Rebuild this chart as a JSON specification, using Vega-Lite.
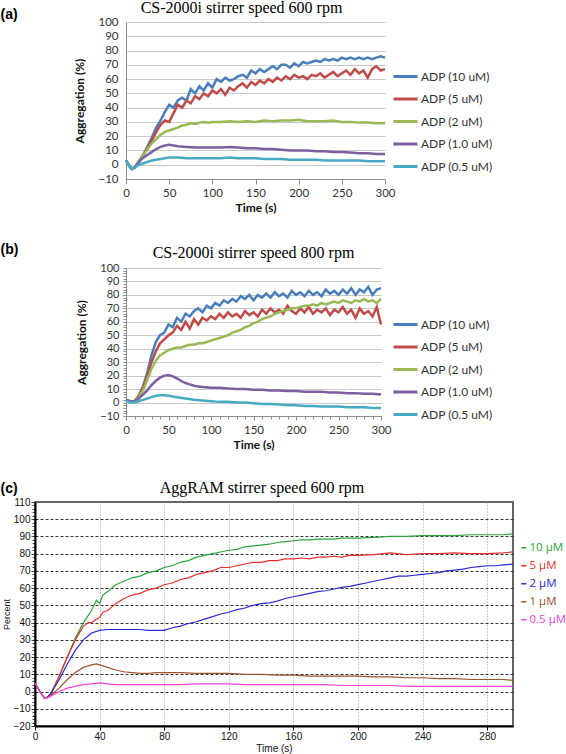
{
"$schema": "https://vega.github.io/schema/vega-lite/v6.json",
"background": "white",
"padding": {"left": 0, "top": 0, "right": 0, "bottom": 0},
"spacing": 28,
"resolve": {"scale": {"color": "independent"}, "legend": {"color": "independent"}},
"config": {"view": {"stroke": null}},
"datasets": {
"a": [
{"s":"ADP (10 uM)","t":0,"v":3},{"s":"ADP (10 uM)","t":4,"v":-1},{"s":"ADP (10 uM)","t":7,"v":-3},{"s":"ADP (10 uM)","t":10,"v":-2},{"s":"ADP (10 uM)","t":15,"v":2},{"s":"ADP (10 uM)","t":20,"v":7},{"s":"ADP (10 uM)","t":25,"v":13},{"s":"ADP (10 uM)","t":30,"v":19},{"s":"ADP (10 uM)","t":35,"v":26},{"s":"ADP (10 uM)","t":40,"v":31},{"s":"ADP (10 uM)","t":45,"v":37},{"s":"ADP (10 uM)","t":50,"v":42},{"s":"ADP (10 uM)","t":55,"v":40},{"s":"ADP (10 uM)","t":60,"v":45},{"s":"ADP (10 uM)","t":65,"v":47},{"s":"ADP (10 uM)","t":70,"v":45},{"s":"ADP (10 uM)","t":75,"v":53},{"s":"ADP (10 uM)","t":80,"v":50},{"s":"ADP (10 uM)","t":85,"v":55},{"s":"ADP (10 uM)","t":90,"v":52},{"s":"ADP (10 uM)","t":95,"v":57},{"s":"ADP (10 uM)","t":100,"v":54},{"s":"ADP (10 uM)","t":105,"v":60},{"s":"ADP (10 uM)","t":110,"v":58},{"s":"ADP (10 uM)","t":115,"v":61},{"s":"ADP (10 uM)","t":120,"v":59},{"s":"ADP (10 uM)","t":125,"v":60},{"s":"ADP (10 uM)","t":130,"v":62},{"s":"ADP (10 uM)","t":135,"v":63},{"s":"ADP (10 uM)","t":140,"v":61},{"s":"ADP (10 uM)","t":145,"v":66},{"s":"ADP (10 uM)","t":150,"v":64},{"s":"ADP (10 uM)","t":155,"v":67},{"s":"ADP (10 uM)","t":160,"v":65},{"s":"ADP (10 uM)","t":165,"v":67},{"s":"ADP (10 uM)","t":170,"v":69},{"s":"ADP (10 uM)","t":175,"v":67},{"s":"ADP (10 uM)","t":180,"v":70},{"s":"ADP (10 uM)","t":185,"v":70},{"s":"ADP (10 uM)","t":190,"v":68},{"s":"ADP (10 uM)","t":195,"v":71},{"s":"ADP (10 uM)","t":200,"v":69},{"s":"ADP (10 uM)","t":205,"v":72},{"s":"ADP (10 uM)","t":210,"v":71},{"s":"ADP (10 uM)","t":215,"v":72},{"s":"ADP (10 uM)","t":220,"v":73},{"s":"ADP (10 uM)","t":225,"v":72},{"s":"ADP (10 uM)","t":230,"v":74},{"s":"ADP (10 uM)","t":235,"v":73},{"s":"ADP (10 uM)","t":240,"v":74},{"s":"ADP (10 uM)","t":245,"v":73},{"s":"ADP (10 uM)","t":250,"v":75},{"s":"ADP (10 uM)","t":255,"v":74},{"s":"ADP (10 uM)","t":260,"v":75},{"s":"ADP (10 uM)","t":265,"v":74},{"s":"ADP (10 uM)","t":270,"v":75},{"s":"ADP (10 uM)","t":275,"v":74},{"s":"ADP (10 uM)","t":280,"v":75},{"s":"ADP (10 uM)","t":285,"v":74},{"s":"ADP (10 uM)","t":290,"v":75},{"s":"ADP (10 uM)","t":295,"v":76},{"s":"ADP (10 uM)","t":300,"v":75},
{"s":"ADP (5 uM)","t":0,"v":3},{"s":"ADP (5 uM)","t":4,"v":-1},{"s":"ADP (5 uM)","t":7,"v":-3},{"s":"ADP (5 uM)","t":10,"v":-2},{"s":"ADP (5 uM)","t":15,"v":2},{"s":"ADP (5 uM)","t":20,"v":7},{"s":"ADP (5 uM)","t":25,"v":12},{"s":"ADP (5 uM)","t":30,"v":17},{"s":"ADP (5 uM)","t":35,"v":23},{"s":"ADP (5 uM)","t":40,"v":28},{"s":"ADP (5 uM)","t":45,"v":31},{"s":"ADP (5 uM)","t":50,"v":30},{"s":"ADP (5 uM)","t":55,"v":36},{"s":"ADP (5 uM)","t":60,"v":42},{"s":"ADP (5 uM)","t":65,"v":40},{"s":"ADP (5 uM)","t":70,"v":45},{"s":"ADP (5 uM)","t":75,"v":43},{"s":"ADP (5 uM)","t":80,"v":48},{"s":"ADP (5 uM)","t":85,"v":46},{"s":"ADP (5 uM)","t":90,"v":50},{"s":"ADP (5 uM)","t":95,"v":48},{"s":"ADP (5 uM)","t":100,"v":52},{"s":"ADP (5 uM)","t":105,"v":50},{"s":"ADP (5 uM)","t":110,"v":53},{"s":"ADP (5 uM)","t":115,"v":49},{"s":"ADP (5 uM)","t":120,"v":54},{"s":"ADP (5 uM)","t":125,"v":52},{"s":"ADP (5 uM)","t":130,"v":55},{"s":"ADP (5 uM)","t":135,"v":57},{"s":"ADP (5 uM)","t":140,"v":54},{"s":"ADP (5 uM)","t":145,"v":58},{"s":"ADP (5 uM)","t":150,"v":56},{"s":"ADP (5 uM)","t":155,"v":59},{"s":"ADP (5 uM)","t":160,"v":57},{"s":"ADP (5 uM)","t":165,"v":60},{"s":"ADP (5 uM)","t":170,"v":58},{"s":"ADP (5 uM)","t":175,"v":61},{"s":"ADP (5 uM)","t":180,"v":59},{"s":"ADP (5 uM)","t":185,"v":62},{"s":"ADP (5 uM)","t":190,"v":60},{"s":"ADP (5 uM)","t":195,"v":63},{"s":"ADP (5 uM)","t":200,"v":61},{"s":"ADP (5 uM)","t":205,"v":62},{"s":"ADP (5 uM)","t":210,"v":60},{"s":"ADP (5 uM)","t":215,"v":63},{"s":"ADP (5 uM)","t":220,"v":62},{"s":"ADP (5 uM)","t":225,"v":64},{"s":"ADP (5 uM)","t":230,"v":61},{"s":"ADP (5 uM)","t":235,"v":63},{"s":"ADP (5 uM)","t":240,"v":65},{"s":"ADP (5 uM)","t":245,"v":62},{"s":"ADP (5 uM)","t":250,"v":64},{"s":"ADP (5 uM)","t":255,"v":66},{"s":"ADP (5 uM)","t":260,"v":63},{"s":"ADP (5 uM)","t":265,"v":67},{"s":"ADP (5 uM)","t":270,"v":64},{"s":"ADP (5 uM)","t":275,"v":66},{"s":"ADP (5 uM)","t":280,"v":61},{"s":"ADP (5 uM)","t":285,"v":67},{"s":"ADP (5 uM)","t":290,"v":69},{"s":"ADP (5 uM)","t":295,"v":66},{"s":"ADP (5 uM)","t":300,"v":67},
{"s":"ADP (2 uM)","t":0,"v":3},{"s":"ADP (2 uM)","t":4,"v":-1},{"s":"ADP (2 uM)","t":7,"v":-3},{"s":"ADP (2 uM)","t":10,"v":-2},{"s":"ADP (2 uM)","t":15,"v":3},{"s":"ADP (2 uM)","t":20,"v":7},{"s":"ADP (2 uM)","t":25,"v":11},{"s":"ADP (2 uM)","t":30,"v":15},{"s":"ADP (2 uM)","t":35,"v":18},{"s":"ADP (2 uM)","t":40,"v":21},{"s":"ADP (2 uM)","t":45,"v":23},{"s":"ADP (2 uM)","t":50,"v":24},{"s":"ADP (2 uM)","t":55,"v":25},{"s":"ADP (2 uM)","t":60,"v":26},{"s":"ADP (2 uM)","t":65,"v":27.5},{"s":"ADP (2 uM)","t":70,"v":28},{"s":"ADP (2 uM)","t":75,"v":29},{"s":"ADP (2 uM)","t":80,"v":28.5},{"s":"ADP (2 uM)","t":85,"v":29.5},{"s":"ADP (2 uM)","t":90,"v":30},{"s":"ADP (2 uM)","t":95,"v":29.5},{"s":"ADP (2 uM)","t":100,"v":30},{"s":"ADP (2 uM)","t":110,"v":30},{"s":"ADP (2 uM)","t":120,"v":30.5},{"s":"ADP (2 uM)","t":130,"v":30},{"s":"ADP (2 uM)","t":140,"v":30.5},{"s":"ADP (2 uM)","t":150,"v":30},{"s":"ADP (2 uM)","t":160,"v":31},{"s":"ADP (2 uM)","t":170,"v":30.5},{"s":"ADP (2 uM)","t":180,"v":31},{"s":"ADP (2 uM)","t":190,"v":31},{"s":"ADP (2 uM)","t":200,"v":31.5},{"s":"ADP (2 uM)","t":210,"v":30.5},{"s":"ADP (2 uM)","t":220,"v":30.5},{"s":"ADP (2 uM)","t":230,"v":30.5},{"s":"ADP (2 uM)","t":240,"v":31},{"s":"ADP (2 uM)","t":250,"v":30},{"s":"ADP (2 uM)","t":260,"v":30},{"s":"ADP (2 uM)","t":270,"v":29.5},{"s":"ADP (2 uM)","t":280,"v":29.5},{"s":"ADP (2 uM)","t":290,"v":29},{"s":"ADP (2 uM)","t":300,"v":29},
{"s":"ADP (1.0 uM)","t":0,"v":3},{"s":"ADP (1.0 uM)","t":4,"v":-1},{"s":"ADP (1.0 uM)","t":7,"v":-3},{"s":"ADP (1.0 uM)","t":10,"v":-2},{"s":"ADP (1.0 uM)","t":15,"v":2},{"s":"ADP (1.0 uM)","t":20,"v":5},{"s":"ADP (1.0 uM)","t":25,"v":7},{"s":"ADP (1.0 uM)","t":30,"v":9},{"s":"ADP (1.0 uM)","t":35,"v":11},{"s":"ADP (1.0 uM)","t":40,"v":12.5},{"s":"ADP (1.0 uM)","t":45,"v":13.5},{"s":"ADP (1.0 uM)","t":50,"v":14},{"s":"ADP (1.0 uM)","t":55,"v":13.5},{"s":"ADP (1.0 uM)","t":60,"v":13},{"s":"ADP (1.0 uM)","t":70,"v":12.5},{"s":"ADP (1.0 uM)","t":80,"v":12},{"s":"ADP (1.0 uM)","t":90,"v":12},{"s":"ADP (1.0 uM)","t":100,"v":12},{"s":"ADP (1.0 uM)","t":110,"v":12},{"s":"ADP (1.0 uM)","t":120,"v":12.5},{"s":"ADP (1.0 uM)","t":130,"v":12},{"s":"ADP (1.0 uM)","t":140,"v":11.5},{"s":"ADP (1.0 uM)","t":150,"v":11.5},{"s":"ADP (1.0 uM)","t":160,"v":11},{"s":"ADP (1.0 uM)","t":170,"v":11},{"s":"ADP (1.0 uM)","t":180,"v":10.5},{"s":"ADP (1.0 uM)","t":190,"v":10},{"s":"ADP (1.0 uM)","t":200,"v":10},{"s":"ADP (1.0 uM)","t":210,"v":10},{"s":"ADP (1.0 uM)","t":220,"v":9.5},{"s":"ADP (1.0 uM)","t":230,"v":9.5},{"s":"ADP (1.0 uM)","t":240,"v":9},{"s":"ADP (1.0 uM)","t":250,"v":9},{"s":"ADP (1.0 uM)","t":260,"v":8.5},{"s":"ADP (1.0 uM)","t":270,"v":8},{"s":"ADP (1.0 uM)","t":280,"v":8},{"s":"ADP (1.0 uM)","t":290,"v":7.5},{"s":"ADP (1.0 uM)","t":300,"v":7.5},
{"s":"ADP (0.5 uM)","t":0,"v":3},{"s":"ADP (0.5 uM)","t":4,"v":-1},{"s":"ADP (0.5 uM)","t":7,"v":-3},{"s":"ADP (0.5 uM)","t":10,"v":-2},{"s":"ADP (0.5 uM)","t":15,"v":0},{"s":"ADP (0.5 uM)","t":20,"v":1},{"s":"ADP (0.5 uM)","t":25,"v":2},{"s":"ADP (0.5 uM)","t":30,"v":3},{"s":"ADP (0.5 uM)","t":35,"v":3.5},{"s":"ADP (0.5 uM)","t":40,"v":4},{"s":"ADP (0.5 uM)","t":45,"v":4.5},{"s":"ADP (0.5 uM)","t":50,"v":5},{"s":"ADP (0.5 uM)","t":60,"v":5},{"s":"ADP (0.5 uM)","t":70,"v":4.5},{"s":"ADP (0.5 uM)","t":80,"v":4.5},{"s":"ADP (0.5 uM)","t":90,"v":4.5},{"s":"ADP (0.5 uM)","t":100,"v":4.5},{"s":"ADP (0.5 uM)","t":110,"v":4.5},{"s":"ADP (0.5 uM)","t":120,"v":5},{"s":"ADP (0.5 uM)","t":130,"v":4.5},{"s":"ADP (0.5 uM)","t":140,"v":4.5},{"s":"ADP (0.5 uM)","t":150,"v":4.5},{"s":"ADP (0.5 uM)","t":160,"v":4},{"s":"ADP (0.5 uM)","t":170,"v":4},{"s":"ADP (0.5 uM)","t":180,"v":4},{"s":"ADP (0.5 uM)","t":190,"v":3.5},{"s":"ADP (0.5 uM)","t":200,"v":3.5},{"s":"ADP (0.5 uM)","t":210,"v":3.5},{"s":"ADP (0.5 uM)","t":220,"v":3.5},{"s":"ADP (0.5 uM)","t":230,"v":3},{"s":"ADP (0.5 uM)","t":240,"v":3},{"s":"ADP (0.5 uM)","t":250,"v":3},{"s":"ADP (0.5 uM)","t":260,"v":3},{"s":"ADP (0.5 uM)","t":270,"v":3},{"s":"ADP (0.5 uM)","t":280,"v":2.5},{"s":"ADP (0.5 uM)","t":290,"v":2.5},{"s":"ADP (0.5 uM)","t":300,"v":2.5}
],
"b": [
{"s":"ADP (10 uM)","t":0,"v":2},{"s":"ADP (10 uM)","t":5,"v":1},{"s":"ADP (10 uM)","t":10,"v":1},{"s":"ADP (10 uM)","t":15,"v":5},{"s":"ADP (10 uM)","t":20,"v":12},{"s":"ADP (10 uM)","t":25,"v":22},{"s":"ADP (10 uM)","t":30,"v":35},{"s":"ADP (10 uM)","t":35,"v":45},{"s":"ADP (10 uM)","t":40,"v":50},{"s":"ADP (10 uM)","t":45,"v":52},{"s":"ADP (10 uM)","t":50,"v":58},{"s":"ADP (10 uM)","t":55,"v":56},{"s":"ADP (10 uM)","t":60,"v":63},{"s":"ADP (10 uM)","t":65,"v":60},{"s":"ADP (10 uM)","t":70,"v":66},{"s":"ADP (10 uM)","t":75,"v":64},{"s":"ADP (10 uM)","t":80,"v":68},{"s":"ADP (10 uM)","t":85,"v":70},{"s":"ADP (10 uM)","t":90,"v":67},{"s":"ADP (10 uM)","t":95,"v":72},{"s":"ADP (10 uM)","t":100,"v":70},{"s":"ADP (10 uM)","t":105,"v":74},{"s":"ADP (10 uM)","t":110,"v":72},{"s":"ADP (10 uM)","t":115,"v":76},{"s":"ADP (10 uM)","t":120,"v":74},{"s":"ADP (10 uM)","t":125,"v":77},{"s":"ADP (10 uM)","t":130,"v":75},{"s":"ADP (10 uM)","t":135,"v":79},{"s":"ADP (10 uM)","t":140,"v":77},{"s":"ADP (10 uM)","t":145,"v":80},{"s":"ADP (10 uM)","t":150,"v":76},{"s":"ADP (10 uM)","t":155,"v":80},{"s":"ADP (10 uM)","t":160,"v":78},{"s":"ADP (10 uM)","t":165,"v":81},{"s":"ADP (10 uM)","t":170,"v":78},{"s":"ADP (10 uM)","t":175,"v":82},{"s":"ADP (10 uM)","t":180,"v":79},{"s":"ADP (10 uM)","t":185,"v":81},{"s":"ADP (10 uM)","t":190,"v":78},{"s":"ADP (10 uM)","t":195,"v":83},{"s":"ADP (10 uM)","t":200,"v":80},{"s":"ADP (10 uM)","t":205,"v":82},{"s":"ADP (10 uM)","t":210,"v":79},{"s":"ADP (10 uM)","t":215,"v":83},{"s":"ADP (10 uM)","t":220,"v":80},{"s":"ADP (10 uM)","t":225,"v":82},{"s":"ADP (10 uM)","t":230,"v":79},{"s":"ADP (10 uM)","t":235,"v":84},{"s":"ADP (10 uM)","t":240,"v":81},{"s":"ADP (10 uM)","t":245,"v":83},{"s":"ADP (10 uM)","t":250,"v":80},{"s":"ADP (10 uM)","t":255,"v":84},{"s":"ADP (10 uM)","t":260,"v":81},{"s":"ADP (10 uM)","t":265,"v":85},{"s":"ADP (10 uM)","t":270,"v":80},{"s":"ADP (10 uM)","t":275,"v":84},{"s":"ADP (10 uM)","t":280,"v":82},{"s":"ADP (10 uM)","t":285,"v":86},{"s":"ADP (10 uM)","t":290,"v":80},{"s":"ADP (10 uM)","t":295,"v":84},{"s":"ADP (10 uM)","t":300,"v":85},
{"s":"ADP (5 uM)","t":0,"v":2},{"s":"ADP (5 uM)","t":5,"v":1},{"s":"ADP (5 uM)","t":10,"v":1},{"s":"ADP (5 uM)","t":15,"v":5},{"s":"ADP (5 uM)","t":20,"v":11},{"s":"ADP (5 uM)","t":25,"v":20},{"s":"ADP (5 uM)","t":30,"v":30},{"s":"ADP (5 uM)","t":35,"v":38},{"s":"ADP (5 uM)","t":40,"v":44},{"s":"ADP (5 uM)","t":45,"v":47},{"s":"ADP (5 uM)","t":50,"v":50},{"s":"ADP (5 uM)","t":55,"v":52},{"s":"ADP (5 uM)","t":60,"v":57},{"s":"ADP (5 uM)","t":65,"v":54},{"s":"ADP (5 uM)","t":70,"v":60},{"s":"ADP (5 uM)","t":75,"v":55},{"s":"ADP (5 uM)","t":80,"v":62},{"s":"ADP (5 uM)","t":85,"v":58},{"s":"ADP (5 uM)","t":90,"v":63},{"s":"ADP (5 uM)","t":95,"v":61},{"s":"ADP (5 uM)","t":100,"v":64},{"s":"ADP (5 uM)","t":105,"v":62},{"s":"ADP (5 uM)","t":110,"v":66},{"s":"ADP (5 uM)","t":115,"v":63},{"s":"ADP (5 uM)","t":120,"v":67},{"s":"ADP (5 uM)","t":125,"v":64},{"s":"ADP (5 uM)","t":130,"v":66},{"s":"ADP (5 uM)","t":135,"v":63},{"s":"ADP (5 uM)","t":140,"v":68},{"s":"ADP (5 uM)","t":145,"v":65},{"s":"ADP (5 uM)","t":150,"v":67},{"s":"ADP (5 uM)","t":155,"v":64},{"s":"ADP (5 uM)","t":160,"v":69},{"s":"ADP (5 uM)","t":165,"v":66},{"s":"ADP (5 uM)","t":170,"v":70},{"s":"ADP (5 uM)","t":175,"v":67},{"s":"ADP (5 uM)","t":180,"v":69},{"s":"ADP (5 uM)","t":185,"v":66},{"s":"ADP (5 uM)","t":190,"v":72},{"s":"ADP (5 uM)","t":195,"v":68},{"s":"ADP (5 uM)","t":200,"v":66},{"s":"ADP (5 uM)","t":205,"v":70},{"s":"ADP (5 uM)","t":210,"v":67},{"s":"ADP (5 uM)","t":215,"v":71},{"s":"ADP (5 uM)","t":220,"v":66},{"s":"ADP (5 uM)","t":225,"v":69},{"s":"ADP (5 uM)","t":230,"v":67},{"s":"ADP (5 uM)","t":235,"v":70},{"s":"ADP (5 uM)","t":240,"v":65},{"s":"ADP (5 uM)","t":245,"v":69},{"s":"ADP (5 uM)","t":250,"v":67},{"s":"ADP (5 uM)","t":255,"v":71},{"s":"ADP (5 uM)","t":260,"v":66},{"s":"ADP (5 uM)","t":265,"v":69},{"s":"ADP (5 uM)","t":270,"v":63},{"s":"ADP (5 uM)","t":275,"v":70},{"s":"ADP (5 uM)","t":280,"v":66},{"s":"ADP (5 uM)","t":285,"v":68},{"s":"ADP (5 uM)","t":290,"v":64},{"s":"ADP (5 uM)","t":295,"v":71},{"s":"ADP (5 uM)","t":300,"v":58},
{"s":"ADP (2 uM)","t":0,"v":2},{"s":"ADP (2 uM)","t":5,"v":1},{"s":"ADP (2 uM)","t":10,"v":1},{"s":"ADP (2 uM)","t":15,"v":4},{"s":"ADP (2 uM)","t":20,"v":9},{"s":"ADP (2 uM)","t":25,"v":17},{"s":"ADP (2 uM)","t":30,"v":25},{"s":"ADP (2 uM)","t":35,"v":31},{"s":"ADP (2 uM)","t":40,"v":35},{"s":"ADP (2 uM)","t":45,"v":37},{"s":"ADP (2 uM)","t":50,"v":39},{"s":"ADP (2 uM)","t":55,"v":40},{"s":"ADP (2 uM)","t":60,"v":41},{"s":"ADP (2 uM)","t":65,"v":41},{"s":"ADP (2 uM)","t":70,"v":42},{"s":"ADP (2 uM)","t":75,"v":43},{"s":"ADP (2 uM)","t":80,"v":43},{"s":"ADP (2 uM)","t":85,"v":44},{"s":"ADP (2 uM)","t":90,"v":44},{"s":"ADP (2 uM)","t":95,"v":45},{"s":"ADP (2 uM)","t":100,"v":46},{"s":"ADP (2 uM)","t":105,"v":47},{"s":"ADP (2 uM)","t":110,"v":48},{"s":"ADP (2 uM)","t":115,"v":49},{"s":"ADP (2 uM)","t":120,"v":50},{"s":"ADP (2 uM)","t":125,"v":52},{"s":"ADP (2 uM)","t":130,"v":53},{"s":"ADP (2 uM)","t":135,"v":54},{"s":"ADP (2 uM)","t":140,"v":56},{"s":"ADP (2 uM)","t":145,"v":57},{"s":"ADP (2 uM)","t":150,"v":59},{"s":"ADP (2 uM)","t":155,"v":60},{"s":"ADP (2 uM)","t":160,"v":62},{"s":"ADP (2 uM)","t":165,"v":63},{"s":"ADP (2 uM)","t":170,"v":64},{"s":"ADP (2 uM)","t":175,"v":66},{"s":"ADP (2 uM)","t":180,"v":67},{"s":"ADP (2 uM)","t":185,"v":68},{"s":"ADP (2 uM)","t":190,"v":69},{"s":"ADP (2 uM)","t":195,"v":70},{"s":"ADP (2 uM)","t":200,"v":70},{"s":"ADP (2 uM)","t":205,"v":71},{"s":"ADP (2 uM)","t":210,"v":72},{"s":"ADP (2 uM)","t":215,"v":72},{"s":"ADP (2 uM)","t":220,"v":73},{"s":"ADP (2 uM)","t":225,"v":72},{"s":"ADP (2 uM)","t":230,"v":74},{"s":"ADP (2 uM)","t":235,"v":73},{"s":"ADP (2 uM)","t":240,"v":74},{"s":"ADP (2 uM)","t":245,"v":75},{"s":"ADP (2 uM)","t":250,"v":74},{"s":"ADP (2 uM)","t":255,"v":76},{"s":"ADP (2 uM)","t":260,"v":75},{"s":"ADP (2 uM)","t":265,"v":74},{"s":"ADP (2 uM)","t":270,"v":76},{"s":"ADP (2 uM)","t":275,"v":75},{"s":"ADP (2 uM)","t":280,"v":77},{"s":"ADP (2 uM)","t":285,"v":75},{"s":"ADP (2 uM)","t":290,"v":76},{"s":"ADP (2 uM)","t":295,"v":74},{"s":"ADP (2 uM)","t":300,"v":77},
{"s":"ADP (1.0 uM)","t":0,"v":2},{"s":"ADP (1.0 uM)","t":5,"v":1},{"s":"ADP (1.0 uM)","t":10,"v":1},{"s":"ADP (1.0 uM)","t":15,"v":3},{"s":"ADP (1.0 uM)","t":20,"v":6},{"s":"ADP (1.0 uM)","t":25,"v":9},{"s":"ADP (1.0 uM)","t":30,"v":13},{"s":"ADP (1.0 uM)","t":35,"v":16},{"s":"ADP (1.0 uM)","t":40,"v":18.5},{"s":"ADP (1.0 uM)","t":45,"v":20},{"s":"ADP (1.0 uM)","t":50,"v":20.5},{"s":"ADP (1.0 uM)","t":55,"v":19.5},{"s":"ADP (1.0 uM)","t":60,"v":18},{"s":"ADP (1.0 uM)","t":65,"v":16},{"s":"ADP (1.0 uM)","t":70,"v":14.5},{"s":"ADP (1.0 uM)","t":75,"v":13.5},{"s":"ADP (1.0 uM)","t":80,"v":12.5},{"s":"ADP (1.0 uM)","t":85,"v":12},{"s":"ADP (1.0 uM)","t":90,"v":11.5},{"s":"ADP (1.0 uM)","t":100,"v":11},{"s":"ADP (1.0 uM)","t":110,"v":11},{"s":"ADP (1.0 uM)","t":120,"v":10.5},{"s":"ADP (1.0 uM)","t":130,"v":10},{"s":"ADP (1.0 uM)","t":140,"v":10},{"s":"ADP (1.0 uM)","t":150,"v":9.5},{"s":"ADP (1.0 uM)","t":160,"v":9.5},{"s":"ADP (1.0 uM)","t":170,"v":9},{"s":"ADP (1.0 uM)","t":180,"v":9},{"s":"ADP (1.0 uM)","t":190,"v":8.5},{"s":"ADP (1.0 uM)","t":200,"v":8.5},{"s":"ADP (1.0 uM)","t":210,"v":8},{"s":"ADP (1.0 uM)","t":220,"v":8},{"s":"ADP (1.0 uM)","t":230,"v":8},{"s":"ADP (1.0 uM)","t":240,"v":7.5},{"s":"ADP (1.0 uM)","t":250,"v":7.5},{"s":"ADP (1.0 uM)","t":260,"v":7},{"s":"ADP (1.0 uM)","t":270,"v":7},{"s":"ADP (1.0 uM)","t":280,"v":6.5},{"s":"ADP (1.0 uM)","t":290,"v":6.5},{"s":"ADP (1.0 uM)","t":300,"v":6},
{"s":"ADP (0.5 uM)","t":0,"v":1.5},{"s":"ADP (0.5 uM)","t":5,"v":0},{"s":"ADP (0.5 uM)","t":10,"v":0},{"s":"ADP (0.5 uM)","t":15,"v":1},{"s":"ADP (0.5 uM)","t":20,"v":2},{"s":"ADP (0.5 uM)","t":25,"v":3},{"s":"ADP (0.5 uM)","t":30,"v":4},{"s":"ADP (0.5 uM)","t":35,"v":5},{"s":"ADP (0.5 uM)","t":40,"v":5.5},{"s":"ADP (0.5 uM)","t":45,"v":5.5},{"s":"ADP (0.5 uM)","t":50,"v":5},{"s":"ADP (0.5 uM)","t":55,"v":4.5},{"s":"ADP (0.5 uM)","t":60,"v":4},{"s":"ADP (0.5 uM)","t":70,"v":3},{"s":"ADP (0.5 uM)","t":80,"v":2},{"s":"ADP (0.5 uM)","t":90,"v":1.5},{"s":"ADP (0.5 uM)","t":100,"v":1},{"s":"ADP (0.5 uM)","t":110,"v":0.5},{"s":"ADP (0.5 uM)","t":120,"v":0.5},{"s":"ADP (0.5 uM)","t":130,"v":0},{"s":"ADP (0.5 uM)","t":140,"v":0},{"s":"ADP (0.5 uM)","t":150,"v":-0.5},{"s":"ADP (0.5 uM)","t":160,"v":-1},{"s":"ADP (0.5 uM)","t":170,"v":-1},{"s":"ADP (0.5 uM)","t":180,"v":-1.5},{"s":"ADP (0.5 uM)","t":190,"v":-2},{"s":"ADP (0.5 uM)","t":200,"v":-2},{"s":"ADP (0.5 uM)","t":210,"v":-2.5},{"s":"ADP (0.5 uM)","t":220,"v":-2.5},{"s":"ADP (0.5 uM)","t":230,"v":-3},{"s":"ADP (0.5 uM)","t":240,"v":-3},{"s":"ADP (0.5 uM)","t":250,"v":-3},{"s":"ADP (0.5 uM)","t":260,"v":-3.5},{"s":"ADP (0.5 uM)","t":270,"v":-3.5},{"s":"ADP (0.5 uM)","t":280,"v":-3.5},{"s":"ADP (0.5 uM)","t":290,"v":-4},{"s":"ADP (0.5 uM)","t":300,"v":-4}
],
"c": [
{"s":"10 μM","t":0,"v":5},{"s":"10 μM","t":3,"v":0},{"s":"10 μM","t":6,"v":-4},{"s":"10 μM","t":8,"v":-3},{"s":"10 μM","t":10,"v":-1},{"s":"10 μM","t":15,"v":9},{"s":"10 μM","t":20,"v":20},{"s":"10 μM","t":25,"v":31},{"s":"10 μM","t":30,"v":40},{"s":"10 μM","t":35,"v":47},{"s":"10 μM","t":38,"v":53},{"s":"10 μM","t":40,"v":51},{"s":"10 μM","t":42,"v":56},{"s":"10 μM","t":45,"v":58},{"s":"10 μM","t":50,"v":62},{"s":"10 μM","t":55,"v":64},{"s":"10 μM","t":60,"v":66},{"s":"10 μM","t":65,"v":67},{"s":"10 μM","t":70,"v":69},{"s":"10 μM","t":75,"v":70},{"s":"10 μM","t":80,"v":72},{"s":"10 μM","t":85,"v":73},{"s":"10 μM","t":90,"v":75},{"s":"10 μM","t":95,"v":76},{"s":"10 μM","t":100,"v":78},{"s":"10 μM","t":105,"v":79},{"s":"10 μM","t":110,"v":80},{"s":"10 μM","t":115,"v":81},{"s":"10 μM","t":120,"v":82},{"s":"10 μM","t":125,"v":82.5},{"s":"10 μM","t":130,"v":84},{"s":"10 μM","t":135,"v":84.5},{"s":"10 μM","t":140,"v":85},{"s":"10 μM","t":145,"v":85.5},{"s":"10 μM","t":150,"v":86.5},{"s":"10 μM","t":155,"v":87},{"s":"10 μM","t":160,"v":87.5},{"s":"10 μM","t":165,"v":88},{"s":"10 μM","t":170,"v":88},{"s":"10 μM","t":175,"v":88.5},{"s":"10 μM","t":180,"v":88.5},{"s":"10 μM","t":185,"v":88.5},{"s":"10 μM","t":190,"v":89},{"s":"10 μM","t":195,"v":89},{"s":"10 μM","t":200,"v":89},{"s":"10 μM","t":210,"v":89.5},{"s":"10 μM","t":220,"v":90},{"s":"10 μM","t":230,"v":90},{"s":"10 μM","t":240,"v":90.5},{"s":"10 μM","t":250,"v":90.5},{"s":"10 μM","t":260,"v":90.5},{"s":"10 μM","t":270,"v":91},{"s":"10 μM","t":280,"v":91},{"s":"10 μM","t":290,"v":91},{"s":"10 μM","t":296,"v":91.5},
{"s":"5 μM","t":0,"v":5},{"s":"5 μM","t":3,"v":0},{"s":"5 μM","t":6,"v":-4},{"s":"5 μM","t":8,"v":-3},{"s":"5 μM","t":10,"v":-1},{"s":"5 μM","t":15,"v":9},{"s":"5 μM","t":20,"v":20},{"s":"5 μM","t":25,"v":30},{"s":"5 μM","t":30,"v":38},{"s":"5 μM","t":33,"v":40},{"s":"5 μM","t":35,"v":40},{"s":"5 μM","t":38,"v":42},{"s":"5 μM","t":40,"v":43},{"s":"5 μM","t":42,"v":46},{"s":"5 μM","t":45,"v":47},{"s":"5 μM","t":50,"v":51},{"s":"5 μM","t":55,"v":54},{"s":"5 μM","t":60,"v":56},{"s":"5 μM","t":65,"v":57},{"s":"5 μM","t":70,"v":59},{"s":"5 μM","t":75,"v":60},{"s":"5 μM","t":80,"v":62},{"s":"5 μM","t":85,"v":63},{"s":"5 μM","t":90,"v":65},{"s":"5 μM","t":95,"v":66},{"s":"5 μM","t":100,"v":68},{"s":"5 μM","t":105,"v":69},{"s":"5 μM","t":110,"v":70},{"s":"5 μM","t":115,"v":72},{"s":"5 μM","t":120,"v":72},{"s":"5 μM","t":125,"v":73},{"s":"5 μM","t":130,"v":74},{"s":"5 μM","t":135,"v":75},{"s":"5 μM","t":140,"v":75},{"s":"5 μM","t":145,"v":76},{"s":"5 μM","t":150,"v":76},{"s":"5 μM","t":155,"v":77},{"s":"5 μM","t":160,"v":77},{"s":"5 μM","t":165,"v":77.5},{"s":"5 μM","t":170,"v":77},{"s":"5 μM","t":175,"v":78},{"s":"5 μM","t":180,"v":78},{"s":"5 μM","t":185,"v":78.5},{"s":"5 μM","t":190,"v":78},{"s":"5 μM","t":195,"v":79},{"s":"5 μM","t":200,"v":79},{"s":"5 μM","t":210,"v":79.5},{"s":"5 μM","t":220,"v":80.5},{"s":"5 μM","t":230,"v":79.5},{"s":"5 μM","t":240,"v":80},{"s":"5 μM","t":250,"v":80},{"s":"5 μM","t":260,"v":80.5},{"s":"5 μM","t":270,"v":80},{"s":"5 μM","t":280,"v":80},{"s":"5 μM","t":290,"v":80.5},{"s":"5 μM","t":296,"v":81},
{"s":"2 μM","t":0,"v":5},{"s":"2 μM","t":3,"v":0},{"s":"2 μM","t":6,"v":-4},{"s":"2 μM","t":8,"v":-3},{"s":"2 μM","t":10,"v":-1},{"s":"2 μM","t":15,"v":7},{"s":"2 μM","t":20,"v":16},{"s":"2 μM","t":25,"v":24},{"s":"2 μM","t":30,"v":30},{"s":"2 μM","t":35,"v":34},{"s":"2 μM","t":40,"v":35.5},{"s":"2 μM","t":45,"v":36},{"s":"2 μM","t":50,"v":36},{"s":"2 μM","t":55,"v":36},{"s":"2 μM","t":60,"v":36},{"s":"2 μM","t":65,"v":36},{"s":"2 μM","t":70,"v":35.5},{"s":"2 μM","t":75,"v":35.5},{"s":"2 μM","t":80,"v":35.5},{"s":"2 μM","t":85,"v":37},{"s":"2 μM","t":90,"v":38},{"s":"2 μM","t":95,"v":39.5},{"s":"2 μM","t":100,"v":40.5},{"s":"2 μM","t":105,"v":42},{"s":"2 μM","t":110,"v":43.5},{"s":"2 μM","t":115,"v":45},{"s":"2 μM","t":120,"v":46},{"s":"2 μM","t":125,"v":47.5},{"s":"2 μM","t":130,"v":48.5},{"s":"2 μM","t":135,"v":50},{"s":"2 μM","t":140,"v":51},{"s":"2 μM","t":145,"v":51.5},{"s":"2 μM","t":150,"v":52.5},{"s":"2 μM","t":155,"v":54},{"s":"2 μM","t":160,"v":55},{"s":"2 μM","t":165,"v":56},{"s":"2 μM","t":170,"v":57},{"s":"2 μM","t":175,"v":58},{"s":"2 μM","t":180,"v":58.5},{"s":"2 μM","t":185,"v":59.5},{"s":"2 μM","t":190,"v":60.5},{"s":"2 μM","t":195,"v":61},{"s":"2 μM","t":200,"v":62},{"s":"2 μM","t":205,"v":63},{"s":"2 μM","t":210,"v":64},{"s":"2 μM","t":215,"v":65},{"s":"2 μM","t":220,"v":66},{"s":"2 μM","t":225,"v":67},{"s":"2 μM","t":230,"v":67},{"s":"2 μM","t":235,"v":67.5},{"s":"2 μM","t":240,"v":68},{"s":"2 μM","t":245,"v":68.5},{"s":"2 μM","t":250,"v":69},{"s":"2 μM","t":255,"v":70},{"s":"2 μM","t":260,"v":70.5},{"s":"2 μM","t":265,"v":71},{"s":"2 μM","t":270,"v":72},{"s":"2 μM","t":275,"v":72.5},{"s":"2 μM","t":280,"v":73},{"s":"2 μM","t":285,"v":73},{"s":"2 μM","t":290,"v":73.5},{"s":"2 μM","t":296,"v":74},
{"s":"1 μM","t":0,"v":5},{"s":"1 μM","t":3,"v":0},{"s":"1 μM","t":6,"v":-4},{"s":"1 μM","t":8,"v":-3.5},{"s":"1 μM","t":10,"v":-2},{"s":"1 μM","t":15,"v":2},{"s":"1 μM","t":20,"v":7},{"s":"1 μM","t":25,"v":11},{"s":"1 μM","t":30,"v":14},{"s":"1 μM","t":35,"v":15.5},{"s":"1 μM","t":38,"v":16},{"s":"1 μM","t":40,"v":15.5},{"s":"1 μM","t":45,"v":14},{"s":"1 μM","t":50,"v":12.5},{"s":"1 μM","t":55,"v":11.5},{"s":"1 μM","t":60,"v":11},{"s":"1 μM","t":65,"v":10.5},{"s":"1 μM","t":70,"v":10.5},{"s":"1 μM","t":75,"v":11},{"s":"1 μM","t":80,"v":11},{"s":"1 μM","t":85,"v":11},{"s":"1 μM","t":90,"v":11},{"s":"1 μM","t":100,"v":10.5},{"s":"1 μM","t":110,"v":10.5},{"s":"1 μM","t":120,"v":10.5},{"s":"1 μM","t":130,"v":10},{"s":"1 μM","t":140,"v":10},{"s":"1 μM","t":150,"v":9.5},{"s":"1 μM","t":160,"v":9.5},{"s":"1 μM","t":170,"v":9},{"s":"1 μM","t":180,"v":9},{"s":"1 μM","t":190,"v":9},{"s":"1 μM","t":200,"v":9},{"s":"1 μM","t":210,"v":8.5},{"s":"1 μM","t":220,"v":8.5},{"s":"1 μM","t":230,"v":8},{"s":"1 μM","t":240,"v":8},{"s":"1 μM","t":250,"v":7.5},{"s":"1 μM","t":260,"v":7.5},{"s":"1 μM","t":270,"v":7},{"s":"1 μM","t":280,"v":7},{"s":"1 μM","t":290,"v":7},{"s":"1 μM","t":296,"v":6.5},
{"s":"0.5 μM","t":0,"v":5},{"s":"0.5 μM","t":3,"v":0},{"s":"0.5 μM","t":6,"v":-4},{"s":"0.5 μM","t":8,"v":-3.5},{"s":"0.5 μM","t":10,"v":-2.5},{"s":"0.5 μM","t":15,"v":0},{"s":"0.5 μM","t":20,"v":2},{"s":"0.5 μM","t":25,"v":3},{"s":"0.5 μM","t":30,"v":4},{"s":"0.5 μM","t":35,"v":4.5},{"s":"0.5 μM","t":40,"v":5},{"s":"0.5 μM","t":45,"v":4.5},{"s":"0.5 μM","t":50,"v":4},{"s":"0.5 μM","t":60,"v":4},{"s":"0.5 μM","t":70,"v":4},{"s":"0.5 μM","t":80,"v":4},{"s":"0.5 μM","t":90,"v":4},{"s":"0.5 μM","t":100,"v":4.5},{"s":"0.5 μM","t":110,"v":4.5},{"s":"0.5 μM","t":120,"v":4.5},{"s":"0.5 μM","t":130,"v":4},{"s":"0.5 μM","t":140,"v":4},{"s":"0.5 μM","t":150,"v":4},{"s":"0.5 μM","t":160,"v":4},{"s":"0.5 μM","t":170,"v":4},{"s":"0.5 μM","t":180,"v":4},{"s":"0.5 μM","t":190,"v":3.5},{"s":"0.5 μM","t":200,"v":3.5},{"s":"0.5 μM","t":210,"v":3.5},{"s":"0.5 μM","t":220,"v":3.5},{"s":"0.5 μM","t":230,"v":3},{"s":"0.5 μM","t":240,"v":3},{"s":"0.5 μM","t":250,"v":3},{"s":"0.5 μM","t":260,"v":3},{"s":"0.5 μM","t":270,"v":3},{"s":"0.5 μM","t":280,"v":3},{"s":"0.5 μM","t":290,"v":3},{"s":"0.5 μM","t":296,"v":3}
]
},
"vconcat": [
{
"spacing": 55,
"hconcat": [
{"width": 1, "height": 1, "data": {"values": [{"lab": "(a)"}]},
 "mark": {"type": "text", "align": "left", "baseline": "middle", "dy": -8, "font": "Liberation Sans", "fontSize": 14, "fontWeight": "bold", "color": "#000"},
 "encoding": {"text": {"field": "lab"}}},
{
"width": 259, "height": 157,
"title": {"text": "CS-2000i stirrer speed 600 rpm", "font": "Liberation Serif", "fontSize": 16, "fontWeight": "normal", "color": "#000", "anchor": "middle", "frame": "group", "dx": -14, "offset": 0},
"data": {"name": "a"},
"mark": {"type": "line", "strokeWidth": 2.5},
"encoding": {
"x": {"field": "t", "type": "quantitative", "scale": {"domain": [0, 300], "nice": false},
 "axis": {"values": [0, 50, 100, 150, 200, 250, 300], "title": "Time (s)", "grid": false, "labelFlush": false, "domainColor": "#8c8c8c", "tickColor": "#8c8c8c", "tickSize": 5, "labelFont": "Lato", "labelFontSize": 11.5, "labelColor": "#333", "labelPadding": 3, "titleFont": "Lato", "titleFontSize": 12, "titleFontWeight": "bold", "titleColor": "#111", "titlePadding": 4}},
"y": {"field": "v", "type": "quantitative", "scale": {"domain": [-10, 100], "nice": false},
 "axis": {"values": [-10, 0, 10, 20, 30, 40, 50, 60, 70, 80, 90, 100], "title": "Aggregation (%)", "grid": true, "gridColor": "#c8c8c8", "domainColor": "#8c8c8c", "ticks": false, "labelFont": "Lato", "labelFontSize": 11.5, "labelColor": "#333", "labelPadding": 8, "titleFont": "Lato", "titleFontSize": 12, "titleFontWeight": "bold", "titleColor": "#111", "titlePadding": 11}},
"color": {"field": "s", "type": "nominal",
 "scale": {"domain": ["ADP (10 uM)", "ADP (5 uM)", "ADP (2 uM)", "ADP (1.0 uM)", "ADP (0.5 uM)"], "range": ["#4a7ebb", "#be4b48", "#98b954", "#7d5fa0", "#46aac5"]},
 "legend": {"orient": "none", "legendX": 392, "legendY": 41, "title": null, "padding": 0, "symbolType": "stroke", "symbolSize": 576, "symbolStrokeWidth": 3, "labelFont": "Lato", "labelFontSize": 12, "labelColor": "#333", "labelOffset": 2, "rowPadding": 2.5}}
}
}
]
},
{
"spacing": 56,
"hconcat": [
{"width": 1, "height": 1, "data": {"values": [{"lab": "(b)"}]},
 "mark": {"type": "text", "align": "left", "baseline": "middle", "dy": -19, "font": "Liberation Sans", "fontSize": 14, "fontWeight": "bold", "color": "#000"},
 "encoding": {"text": {"field": "lab"}}},
{
"width": 255, "height": 148,
"title": {"text": "CS-2000i stirrer speed 800 rpm", "font": "Liberation Serif", "fontSize": 16, "fontWeight": "normal", "color": "#000", "anchor": "middle", "frame": "group", "dx": 0, "offset": 1},
"data": {"name": "b"},
"resolve": {"axis": {"x": "independent", "y": "independent"}},
"layer": [
{"mark": {"type": "line", "opacity": 0},
 "encoding": {
 "x": {"field": "t", "type": "quantitative", "scale": {"domain": [0, 300], "nice": false},
  "axis": {"orient": "bottom", "values": [0, 10, 20, 30, 40, 50, 60, 70, 80, 90, 100, 110, 120, 130, 140, 150, 160, 170, 180, 190, 200, 210, 220, 230, 240, 250, 260, 270, 280, 290, 300], "labels": false, "domain": false, "grid": false, "title": null, "tickColor": "#8c8c8c", "tickSize": 3}},
 "y": {"field": "v", "type": "quantitative", "scale": {"domain": [-10, 100], "nice": false},
  "axis": {"orient": "left", "values": [-10, -8, -6, -4, -2, 0, 2, 4, 6, 8, 10, 12, 14, 16, 18, 20, 22, 24, 26, 28, 30, 32, 34, 36, 38, 40, 42, 44, 46, 48, 50, 52, 54, 56, 58, 60, 62, 64, 66, 68, 70, 72, 74, 76, 78, 80, 82, 84, 86, 88, 90, 92, 94, 96, 98, 100], "labels": false, "domain": false, "grid": false, "title": null, "tickColor": "#8c8c8c", "tickSize": 3}},
 "detail": {"field": "s"}}},
{"mark": {"type": "line", "strokeWidth": 2.5},
 "encoding": {
 "x": {"field": "t", "type": "quantitative",
  "axis": {"orient": "bottom", "values": [0, 50, 100, 150, 200, 250, 300], "title": "Time (s)", "grid": false, "labelFlush": false, "domainColor": "#8c8c8c", "tickColor": "#8c8c8c", "tickSize": 4, "labelFont": "Lato", "labelFontSize": 11.5, "labelColor": "#333", "labelPadding": 4, "titleFont": "Lato", "titleFontSize": 12, "titleFontWeight": "bold", "titleColor": "#111", "titlePadding": 4}},
 "y": {"field": "v", "type": "quantitative",
  "axis": {"orient": "left", "values": [-10, 0, 10, 20, 30, 40, 50, 60, 70, 80, 90, 100], "title": "Aggregation (%)", "grid": true, "gridColor": "#c8c8c8", "domainColor": "#8c8c8c", "tickColor": "#8c8c8c", "tickSize": 3, "labelFont": "Lato", "labelFontSize": 11, "labelColor": "#333", "labelPadding": 4, "titleFont": "Lato", "titleFontSize": 12, "titleFontWeight": "bold", "titleColor": "#111", "titlePadding": 11}},
 "color": {"field": "s", "type": "nominal",
  "scale": {"domain": ["ADP (10 uM)", "ADP (5 uM)", "ADP (2 uM)", "ADP (1.0 uM)", "ADP (0.5 uM)"], "range": ["#4a7ebb", "#be4b48", "#98b954", "#7d5fa0", "#46aac5"]},
  "legend": {"orient": "none", "legendX": 392, "legendY": 43, "title": null, "padding": 0, "symbolType": "stroke", "symbolSize": 576, "symbolStrokeWidth": 3, "labelFont": "Lato", "labelFontSize": 12, "labelColor": "#333", "labelOffset": 2, "rowPadding": 2.5}}
 }}
]
}
]
},
{
"spacing": -17,
"hconcat": [
{"width": 1, "height": 1, "data": {"values": [{"lab": "(c)"}]},
 "mark": {"type": "text", "align": "left", "baseline": "middle", "dy": -14, "font": "Liberation Sans", "fontSize": 14, "fontWeight": "bold", "color": "#000"},
 "encoding": {"text": {"field": "lab"}}},
{
"width": 478, "height": 224,
"view": {"stroke": "#666", "strokeWidth": 2},
"title": {"text": "AggRAM stirrer speed 600 rpm", "font": "Liberation Serif", "fontSize": 16, "fontWeight": "normal", "color": "#000", "anchor": "middle", "frame": "group", "dx": -12, "offset": 1},
"data": {"name": "c"},
"resolve": {"axis": {"y": "independent"}},
"layer": [
{"mark": {"type": "line", "opacity": 0},
 "encoding": {
 "x": {"field": "t", "type": "quantitative", "scale": {"domain": [0, 296], "nice": false},
  "axis": {"values": [0, 20, 40, 60, 80, 100, 120, 140, 160, 180, 200, 220, 240, 260, 280], "title": "Time (s)", "grid": true, "gridColor": "#999", "gridDash": [1, 2], "labelFlush": false, "domainColor": "#000", "domainWidth": 2, "tickColor": "#000", "tickSize": 4, "labelFont": "Liberation Sans", "labelFontSize": 10, "labelColor": "#111", "labelPadding": 1, "titleFont": "Liberation Sans", "titleFontSize": 10, "titleFontWeight": "normal", "titleColor": "#111", "titlePadding": 2}},
 "y": {"field": "v", "type": "quantitative", "scale": {"domain": [-20, 110], "nice": false},
  "axis": {"orient": "left", "values": [-20, -18, -16, -14, -12, -10, -8, -6, -4, -2, 0, 2, 4, 6, 8, 10, 12, 14, 16, 18, 20, 22, 24, 26, 28, 30, 32, 34, 36, 38, 40, 42, 44, 46, 48, 50, 52, 54, 56, 58, 60, 62, 64, 66, 68, 70, 72, 74, 76, 78, 80, 82, 84, 86, 88, 90, 92, 94, 96, 98, 100, 102, 104, 106, 108, 110], "labels": false, "domain": false, "grid": false, "title": null, "tickColor": "#444", "tickSize": 3}},
 "detail": {"field": "s"}}},
{"mark": {"type": "line", "strokeWidth": 1.2},
 "encoding": {
 "x": {"field": "t", "type": "quantitative"},
 "y": {"field": "v", "type": "quantitative",
  "axis": {"orient": "left", "values": [-20, -10, 0, 10, 20, 30, 40, 50, 60, 70, 80, 90, 100, 110], "title": "Percent", "grid": true, "gridColor": "#333", "gridDash": [3, 2], "gridOpacity": {"condition": {"test": "datum.value > -20 && datum.value < 110", "value": 1}, "value": 0}, "domainColor": "#000", "domainWidth": 2, "tickColor": "#444", "tickSize": 4, "labelFont": "Liberation Sans", "labelFontSize": 10, "labelColor": "#111", "labelPadding": 1, "titleFont": "Liberation Sans", "titleFontSize": 9, "titleFontWeight": "normal", "titleColor": "#111", "titlePadding": 2}},
 "color": {"field": "s", "type": "nominal",
  "scale": {"domain": ["10 μM", "5 μM", "2 μM", "1 μM", "0.5 μM"], "range": ["#29a33c", "#e8302a", "#2a2ad6", "#a0522d", "#ee44dd"]},
  "legend": {"orient": "none", "legendX": 518, "legendY": 40, "title": null, "padding": 0, "symbolType": "stroke", "symbolSize": 25, "symbolStrokeWidth": 1.5, "labelFont": "Open Sans", "labelFontSize": 11.5, "labelOffset": 0, "rowPadding": 5,
   "labelColor": {"expr": "datum.label == '10 μM' ? '#29a33c' : datum.label == '5 μM' ? '#e8302a' : datum.label == '2 μM' ? '#2a2ad6' : datum.label == '1 μM' ? '#a0522d' : '#ee44dd'"}}}
 }}
]
}
]
}
]
}
